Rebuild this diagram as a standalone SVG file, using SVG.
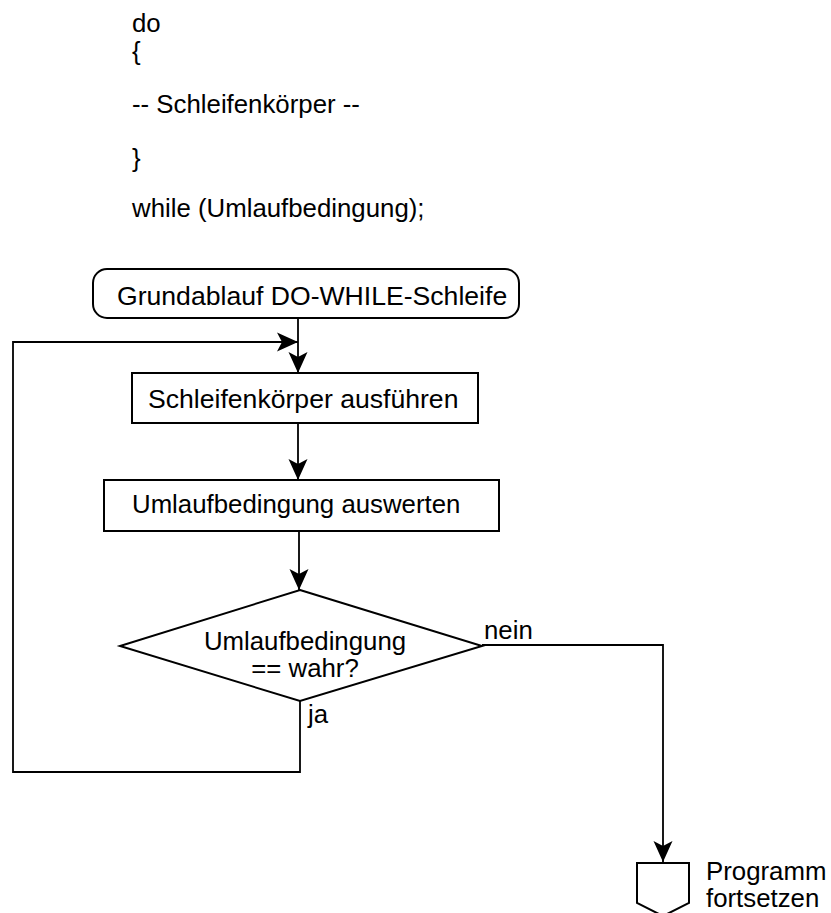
<svg xmlns="http://www.w3.org/2000/svg" width="831" height="913" viewBox="0 0 831 913">
<style>
text{font-family:"Liberation Sans",Arial,sans-serif;font-size:25.8px;fill:#000}
.big{font-size:26.6px}
.shape{fill:#fff;stroke:#000;stroke-width:2}
.conn{fill:none;stroke:#000;stroke-width:1.8}
</style>
<defs>
<marker id="arr" viewBox="-22 -10 24 20" refX="0" refY="0" markerWidth="24" markerHeight="20" markerUnits="userSpaceOnUse" orient="auto">
<path d="M0,0 L-21,-9.5 L-16,0 L-21,9.5 Z" fill="#000"/>
</marker>
</defs>
<g id="code">
<text x="132" y="32">do</text>
<text x="132" y="60">{</text>
<text x="132" y="113">-- Schleifenkörper --</text>
<text x="132" y="167">}</text>
<text x="132" y="217">while (Umlaufbedingung);</text>
</g>
<g id="connectors">
<path class="conn" d="M298,318 L298,373" marker-end="url(#arr)"/>
<path class="conn" d="M300,701 L300,772 L13,772 L13,342 L298,342" marker-end="url(#arr)"/>
<path class="conn" d="M298,423 L298,480" marker-end="url(#arr)"/>
<path class="conn" d="M299,531 L299,590" marker-end="url(#arr)"/>
<path class="conn" d="M482,645 L663,645 L663,862" marker-end="url(#arr)"/>
</g>
<g id="start">
<rect class="shape" x="93" y="269" width="426" height="49" rx="14" ry="14"/>
<text class="big" x="117" y="305">Grundablauf DO-WHILE-Schleife</text>
</g>
<g id="body">
<rect class="shape" x="132" y="373" width="346" height="50"/>
<text class="big" x="148" y="408">Schleifenkörper ausführen</text>
</g>
<g id="evaluate">
<rect class="shape" x="104" y="480" width="395" height="51"/>
<text x="132" y="513">Umlaufbedingung auswerten</text>
</g>
<g id="decision">
<polygon class="shape" points="300,590 482,646 300,701 120,646"/>
<text x="305" y="650" text-anchor="middle">Umlaufbedingung</text>
<text x="305" y="677" text-anchor="middle">== wahr?</text>
<text x="308" y="723">ja</text>
<text x="484" y="639">nein</text>
</g>
<g id="end">
<polygon class="shape" points="637,863 689,863 689,903 663,916 637,903"/>
<text x="706" y="880">Programm</text>
<text x="706" y="907">fortsetzen</text>
</g>
</svg>
